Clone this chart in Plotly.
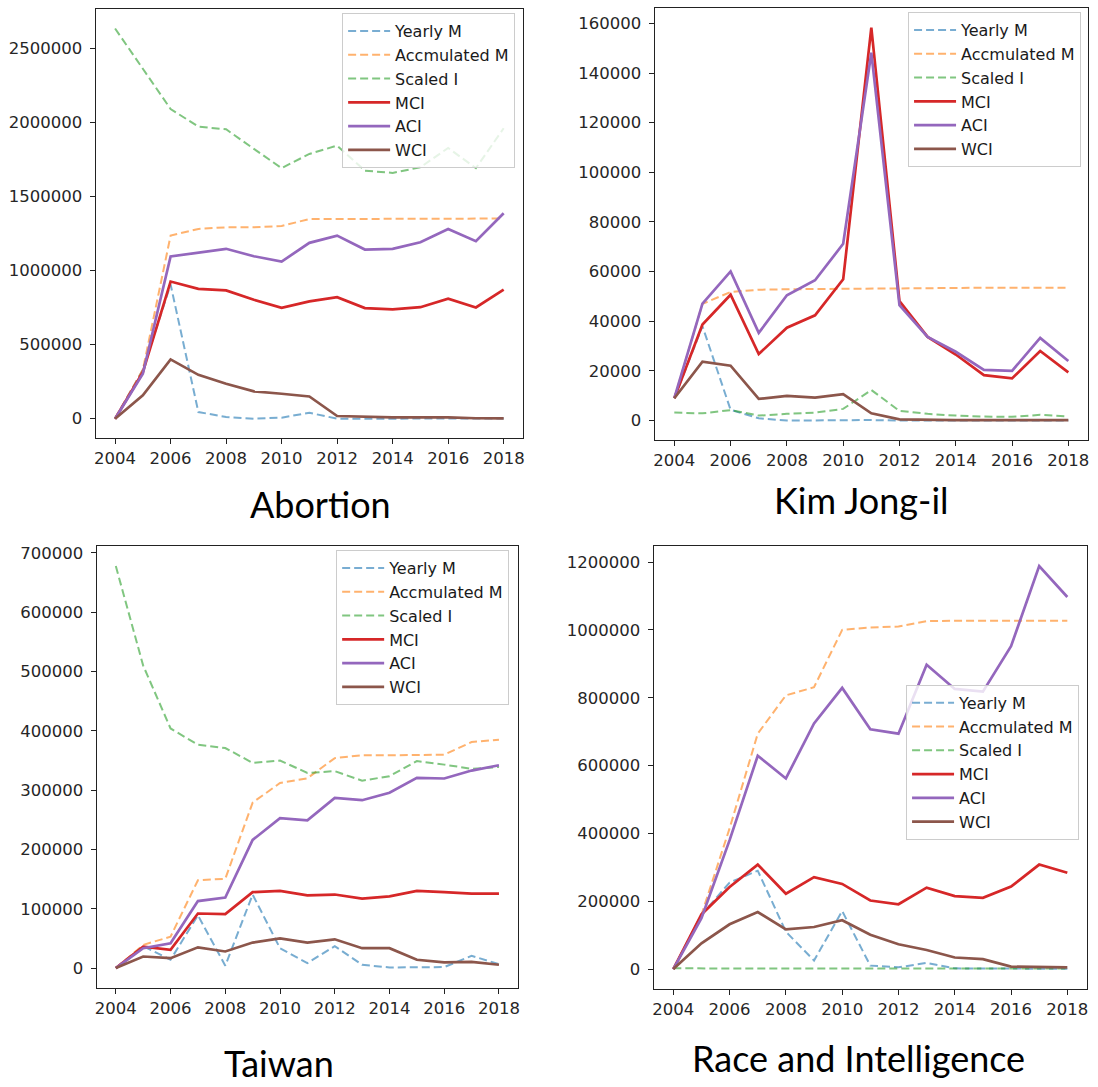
import plotly.graph_objects as go

# ---------------------------------------------------------------- data
years = list(range(2004, 2019))
series_names = ["Yearly M", "Accmulated M", "Scaled I", "MCI", "ACI", "WCI"]

# Abortion
abortion_yearly_m = [0, 330000, 905000, 45000, 11000, 0, 7000, 40000, 0, 1000, 1000, 1000, 1000, 1000, 1000]
abortion_acc_m = [0, 330000, 1235000, 1280000, 1291000, 1291000, 1300000, 1347000, 1347000, 1348000,
                  1349000, 1350000, 1350000, 1350000, 1350000]
abortion_scaled_i = [2632000, 2360000, 2089000, 1970000, 1952000, 1820000, 1690000, 1786000, 1842000,
                     1673000, 1658000, 1696000, 1826000, 1690000, 1959000]
abortion_mci = [0, 314000, 925000, 876000, 865000, 802000, 748000, 791000, 820000, 746000, 737000,
                752000, 809000, 750000, 871000]
abortion_aci = [0, 303000, 1094000, 1118000, 1146000, 1096000, 1060000, 1186000, 1235000, 1141000,
                1146000, 1190000, 1280000, 1197000, 1386000]
abortion_wci = [0, 157000, 400000, 296000, 236000, 184000, 168000, 150000, 18000, 11000, 9000, 9000,
                9000, 3000, 2000]

# Kim Jong-il
kim_yearly_m = [9000, 38000, 4300, 900, 0, 100, 200, 200, 0, 0, 0, 0, 0, 0, 0]
kim_acc_m = [9000, 47000, 51800, 52700, 52900, 53000, 53100, 53300, 53400, 53400, 53500, 53500,
             53500, 53500, 53500]
kim_scaled_i = [3200, 2900, 4200, 2000, 2700, 3200, 4700, 12300, 3900, 2700, 2000, 1600, 1500, 2300, 1600]
kim_mci = [9000, 38700, 50700, 26800, 37400, 42400, 56900, 158300, 48100, 33700, 26600, 18300,
           17000, 28000, 19400]
kim_aci = [9000, 47100, 60100, 35300, 50500, 56500, 71200, 148200, 46500, 33700, 27700, 20400,
           20000, 33300, 24000]
kim_wci = [9000, 23700, 22100, 8700, 9900, 9200, 10600, 2900, 500, 200, 200, 200, 200, 200, 200]

# Taiwan
taiwan_yearly_m = [0, 37000, 14000, 89000, 4000, 124000, 33500, 8400, 37000, 5600, 1000, 1000, 1700,
                   20600, 6700]
taiwan_acc_m = [0, 39000, 53000, 148000, 150600, 279000, 312000, 320000, 354000, 358700, 358700,
                358700, 359800, 381000, 385000]
taiwan_scaled_i = [677700, 510000, 404000, 376500, 371000, 346000, 350000, 329000, 332000, 316000,
                   323500, 349000, 343000, 336000, 339000]
taiwan_mci = [0, 36000, 30700, 92000, 91000, 128000, 130000, 122700, 124000, 117000, 121000, 130000,
              128000, 125500, 125500]
taiwan_aci = [0, 33500, 41800, 113000, 119000, 216000, 252700, 249000, 287000, 283000, 295600,
              320700, 319600, 333000, 342000]
taiwan_wci = [0, 19500, 16700, 35000, 28000, 43000, 50000, 43000, 48500, 33500, 33500, 14000, 9500,
              10600, 5600]

# Race and Intelligence
race_yearly_m = [0, 160000, 255000, 290000, 110000, 25000, 171000, 10000, 5000, 18000, 2000, 1000,
                 1000, 1000, 1000]
race_acc_m = [0, 160000, 415000, 694000, 807000, 831000, 1000000, 1007000, 1010000, 1026000,
              1027000, 1027000, 1027000, 1027000, 1027000]
race_scaled_i = [2000, 1800, 1700, 1600, 1600, 1500, 1500, 1500, 1400, 1400, 1400, 1400, 1300, 1300, 1300]
race_mci = [0, 161000, 242000, 308000, 222000, 271000, 251000, 202000, 191000, 240000, 215000,
            210000, 243000, 308000, 284000]
race_aci = [0, 150000, 380000, 629000, 562000, 724000, 829000, 707000, 694000, 897000, 826000,
            818000, 952000, 1188000, 1097000]
race_wci = [0, 76000, 132000, 168000, 117000, 124000, 144000, 101000, 73000, 56000, 34000, 29000,
            7000, 5000, 5000]

panel_titles = ["Abortion", "Kim Jong-il", "Taiwan", "Race and Intelligence"]
panel_series = [
    [abortion_yearly_m, abortion_acc_m, abortion_scaled_i, abortion_mci, abortion_aci, abortion_wci],
    [kim_yearly_m, kim_acc_m, kim_scaled_i, kim_mci, kim_aci, kim_wci],
    [taiwan_yearly_m, taiwan_acc_m, taiwan_scaled_i, taiwan_mci, taiwan_aci, taiwan_wci],
    [race_yearly_m, race_acc_m, race_scaled_i, race_mci, race_aci, race_wci],
]
y_dticks = [500000, 20000, 100000, 200000]

# ---------------------------------------------------------------- styling
W, H = 1098, 1087
colors = ["#1f77b4", "#ff7f0e", "#2ca02c", "#d62728", "#9467bd", "#8c564b"]
dashed = [True, True, True, False, False, False]

# plot areas in pixels: (left, right, top, bottom)
boxes = [(94, 523, 7, 437), (655, 1090, 6, 439), (95, 518, 545, 988), (654, 1089, 545, 989)]
# legend anchors in pixels: (right, top)
legend_pos = [(515, 11), (1083, 10), (509, 549), (1081, 684)]
# title centres in pixels: (x, y)
title_pos = [(319.5, 503), (863, 499), (278, 1063), (860, 1058)]

tick_font = dict(family="DejaVu Sans", size=16.5, color="#262626")

fig = go.Figure()
layout = dict(
    width=W, height=H, margin=dict(l=0, r=0, t=0, b=0), autosize=False,
    paper_bgcolor="white", plot_bgcolor="white", showlegend=True,
    annotations=[],
)

for i, (series, box) in enumerate(zip(panel_series, boxes)):
    n = i + 1
    xa = "x" if n == 1 else f"x{n}"
    ya = "y" if n == 1 else f"y{n}"
    lg = "legend" if n == 1 else f"legend{n}"
    for name, vals, col, dsh in zip(series_names, series, colors, dashed):
        fig.add_trace(go.Scatter(
            x=years, y=vals, name=name, mode="lines",
            xaxis=xa, yaxis=ya, legend=lg,
            opacity=0.6 if dsh else 1.0,
            line=dict(color=col, width=2 if dsh else 2.7, dash="8px,4px" if dsh else "solid"),
            hoverinfo="skip",
        ))

    all_vals = [v for s in series for v in s]
    lo, hi = min(all_vals), max(all_vals)
    pad = 0.05 * (hi - lo)
    l, r, t, b = box
    axis_common = dict(
        showline=True, linecolor="#222", linewidth=1, mirror=True,
        ticks="outside", ticklen=5, tickwidth=1, tickcolor="#222",
        showgrid=False, zeroline=False, tickfont=tick_font,
    )
    layout["xaxis" if n == 1 else f"xaxis{n}"] = dict(
        domain=[l / W, r / W], anchor=ya, range=[2003.3, 2018.7],
        tickmode="array", tickvals=years[::2], ticktext=[str(y) for y in years[::2]],
        **axis_common,
    )
    layout["yaxis" if n == 1 else f"yaxis{n}"] = dict(
        domain=[1 - b / H, 1 - t / H], anchor=xa, range=[lo - pad, hi + pad],
        tick0=0, dtick=y_dticks[i], tickformat="d", ticklabelstandoff=4,
        **axis_common,
    )
    lx, ly = legend_pos[i]
    layout[lg] = dict(
        x=lx / W, y=1 - ly / H, xanchor="right", yanchor="top",
        bgcolor="rgba(255,255,255,0.8)", bordercolor="#cccccc", borderwidth=1,
        font=dict(family="DejaVu Sans", size=16, color="#1a1a1a"),
        tracegroupgap=0, itemwidth=42,
    )
    tx, ty = title_pos[i]
    layout["annotations"].append(dict(
        text=panel_titles[i], x=tx / W, y=1 - ty / H, xref="paper", yref="paper",
        xanchor="center", yanchor="middle", showarrow=False,
        font=dict(family="Lato", size=36, color="black"),
    ))

fig.update_layout(**layout)
fig.write_html("out.html")
